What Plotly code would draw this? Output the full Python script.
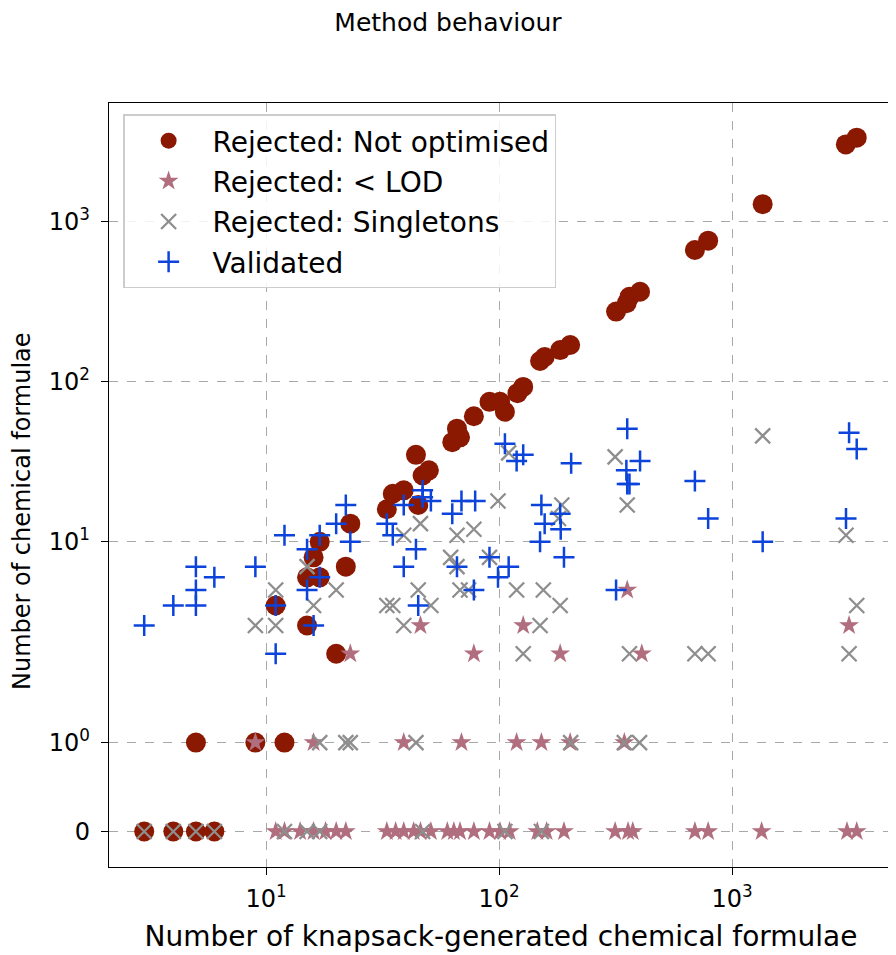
import math
import plotly.graph_objects as go

# ---------------- data ----------------
# Rejected: Not optimised
nopt_x = [3, 4, 5, 6, 5, 9, 12, 20, 11, 15, 15, 17, 16, 17, 22, 23, 33, 35, 39, 45,
          44, 47, 50, 63, 66, 68, 78, 91, 101, 106, 120, 127, 150, 157, 183, 202,
          318, 353, 363, 403, 693, 790, 1354, 3080, 3430]
nopt_y = [0, 0, 0, 0, 1, 1, 1, 2, 4, 3, 6, 6, 8, 10, 7, 13, 16, 20, 21, 17,
          35, 26, 28, 42, 51, 45, 61, 75, 75, 65, 85, 93, 135, 143, 158, 170,
          275, 310, 340, 366, 667, 763, 1290, 3050, 3360]

# Rejected: < LOD
lod_x = [11, 12, 14, 16, 18, 20, 22, 33, 36, 39, 43, 46, 51, 60, 64, 68, 78, 91, 101, 111,
         146, 160, 190, 315, 358, 375, 693, 790, 1340, 3116, 3430,
         9, 16, 39, 69, 119, 152, 202, 345,
         23, 78, 183, 410,
         46, 127, 3180,
         355]
lod_y = [0] * 31 + [1] * 8 + [2] * 4 + [3] * 3 + [5]

# Rejected: Singletons
single_x = [3, 4, 5, 6, 12, 15, 17, 47, 106, 152,
            17, 22, 23, 44, 203, 345, 401,
            127, 363, 693, 790, 3180,
            9, 11, 39, 150,
            16, 33, 35, 51, 183, 3430,
            11, 20, 45, 68, 74, 119, 155,
            15, 66,
            62, 91,
            39, 66, 3085,
            78, 46, 180, 186, 355, 99, 315, 110, 1354]
single_y = [0] * 10 + [1] * 7 + [2] * 5 + [3] * 4 + [4] * 6 + [5] * 7 + [7] * 2 + [8] * 2 + \
           [11] * 3 + [12, 13, 14, 17, 17, 18, 34, 36, 46]

# Validated
valid_x = [11, 3, 16, 4, 5, 11, 45, 5, 15, 78, 318, 6, 17, 99, 5, 9, 39, 66, 110,
           91, 190, 15, 44, 23, 150, 1354, 12, 17, 35, 184, 20, 33, 157, 790, 3085,
           63, 183, 22, 39, 152, 51, 69, 79, 47, 47, 355, 363, 693, 352, 204, 119, 403,
           127, 3430, 106, 3180, 355]
valid_y = [2, 3, 3, 4, 4, 4, 4, 5, 5, 5, 5, 6, 6, 6, 7, 7, 7, 7, 7,
           8, 8, 9, 9, 10, 10, 10, 11, 11, 11, 12, 13, 13, 13, 14, 14,
           15, 15, 17, 17, 17, 18, 18, 18, 19, 21, 23, 23, 24, 28, 31, 32, 32,
           35, 38, 41, 48, 51]

y_tick_values = [0, 1, 10, 100, 1000]
y_tick_labels = ["0", "10<sup>0</sup>", "10<sup>1</sup>", "10<sup>2</sup>", "10<sup>3</sup>"]
x_tick_values = [10, 100, 1000]
x_tick_labels = ["10<sup>1</sup>", "10<sup>2</sup>", "10<sup>3</sup>"]

# symmetric-log scale (linthresh=2, linscale=1, base 10), as matplotlib's symlog
LINTHRESH = 2.0
LINSCALE_ADJ = 1.0 / (1.0 - 1.0 / 10.0)


def symlog(v):
    if abs(v) <= LINTHRESH:
        return v / LINTHRESH * LINSCALE_ADJ
    return math.copysign(LINSCALE_ADJ + math.log10(abs(v) / LINTHRESH), v)


FONT = "DejaVu Sans"
W, H = 888, 947  # page body has an 8px margin

fig = go.Figure()
fig.add_trace(go.Scatter(
    x=nopt_x, y=[symlog(v) for v in nopt_y], mode="markers",
    name="Rejected: Not optimised", legendgroup="a",
    marker=dict(symbol="circle", size=20, color="#8b1800", line=dict(width=0))))
fig.add_trace(go.Scatter(
    x=lod_x, y=[symlog(v) for v in lod_y], mode="markers",
    name="Rejected: < LOD", legendgroup="b",
    marker=dict(symbol="star", size=15, color="#b06e7e", line=dict(width=0))))
fig.add_trace(go.Scatter(
    x=single_x, y=[symlog(v) for v in single_y], mode="markers",
    name="Rejected: Singletons", legendgroup="c",
    marker=dict(symbol="x-thin", size=15, color="#8e8e8e",
                line=dict(width=2.3, color="#8e8e8e"))))
fig.add_trace(go.Scatter(
    x=valid_x, y=[symlog(v) for v in valid_y], mode="markers",
    name="Validated", legendgroup="d",
    marker=dict(symbol="cross-thin", size=15, color="#0b43db",
                line=dict(width=2.5, color="#0b43db"))))

axis_common = dict(
    showline=True, linecolor="black", linewidth=1.4, mirror=True,
    ticks="outside", ticklen=7, tickwidth=1.3, tickcolor="black",
    showgrid=True, gridcolor="#a8a8a8", gridwidth=1, griddash="dash",
    zeroline=False,
)

fig.update_xaxes(
    type="log", range=[0.326, 3.691],
    tickvals=x_tick_values, ticktext=x_tick_labels,
    tickfont=dict(family=FONT, size=24, color="black"),
    ticklabelstandoff=3,
    title=dict(text="Number of knapsack-generated chemical formulae",
               font=dict(family=FONT, size=28, color="black"), standoff=14),
    **axis_common)
fig.update_yaxes(
    range=[-0.222, 4.553],
    tickvals=[symlog(v) for v in y_tick_values], ticktext=y_tick_labels,
    tickfont=dict(family=FONT, size=24, color="black"),
    ticklabelstandoff=6,
    **axis_common)

fig.add_annotation(
    text="Number of chemical formulae", textangle=-90,
    xref="paper", yref="paper", x=(22 - 109) / 784, y=(867 - 511) / 764,
    xanchor="center", yanchor="middle", showarrow=False,
    font=dict(family=FONT, size=24, color="black"))

fig.update_layout(
    width=W, height=H,
    margin=dict(l=101, r=3, t=95, b=88),
    paper_bgcolor="white", plot_bgcolor="white",
    font=dict(family=FONT, color="black"),
    title=dict(text="Method behaviour", x=(448 - 8) / W, xref="container", xanchor="center",
               y=1 - 14 / H, yref="container", yanchor="middle",
               font=dict(family=FONT, size=25, color="black")),
    showlegend=True,
    legend=dict(x=0.018, y=0.985, xanchor="left", yanchor="top",
                bgcolor="rgba(255,255,255,0.85)", bordercolor="#cccccc", borderwidth=1.5,
                font=dict(family=FONT, size=28, color="black"),
                tracegroupgap=1, itemwidth=78),
)

fig.write_html("out.html")
